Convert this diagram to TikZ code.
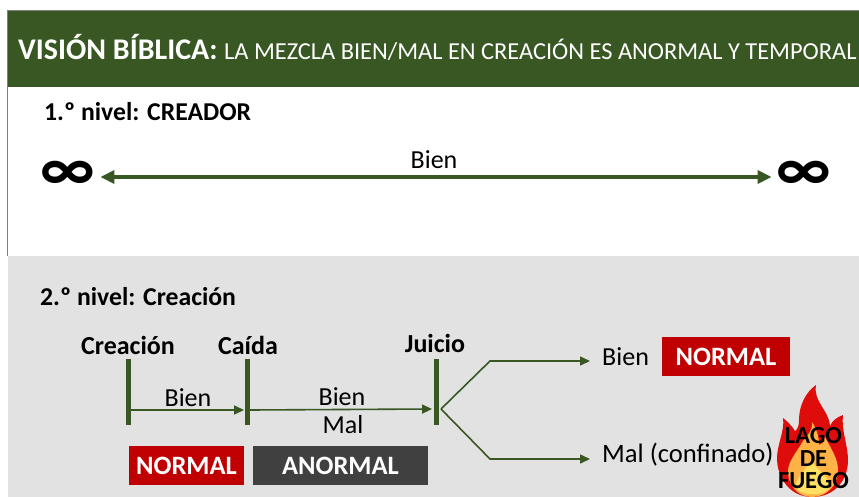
\documentclass[tikz,border=0pt]{standalone}
\usepackage{fontspec}
\setmainfont{Carlito}
\usetikzlibrary{arrows.meta}
\definecolor{DarkGreen}{HTML}{385723}
\definecolor{PaleGrey}{HTML}{E2E2E2}
\definecolor{BoxRed}{HTML}{C00000}
\definecolor{BoxGrey}{HTML}{404040}
\definecolor{FlameRed}{HTML}{DF0C0C}
\definecolor{FlameOrange}{HTML}{FFB347}
\definecolor{FlameYellow}{HTML}{FFE063}
\tikzset{
    txt/.style={inner sep=0pt,anchor=base,font=\fontsize{26}{28}\selectfont},
    txtb/.style={txt,font=\fontsize{26}{28}\selectfont\bfseries},
    flametxt/.style={txt,font=\fontsize{24.5}{26}\selectfont\bfseries},
    tag/.style={fill=#1,text=white,inner sep=0pt,minimum height=39pt,text depth=0pt,font=\fontsize{26.5}{28}\selectfont\bfseries},
    bar/.style={fill=DarkGreen,inner sep=0pt,minimum width=4.5pt,minimum height=66pt},
    widearrow/.style={draw=DarkGreen,line width=3.5pt,{Triangle[length=14pt,width=13pt]}-{Triangle[length=14pt,width=13pt]},shorten >=5pt,shorten <=5pt},
    thinarrow/.style={draw=DarkGreen,line width=1.6pt,-{Triangle[length=10pt,width=9pt]}},
}
\begin{document}
\begin{tikzpicture}[x=1pt,y=-1pt]
    \useasboundingbox (0,0) rectangle (859,497);
    \fill[PaleGrey] (8,256) rectangle (859,497);
    \draw[gray,line width=1pt] (7.5,256) -- (7.5,10.5) -- (859,10.5);
    \fill[DarkGreen] (8,11) rectangle (859,87);
    \node[txtb,anchor=base west,text=white,font=\fontsize{30}{32}\selectfont\bfseries] (titlea) at (18,60) {VISIÓN BÍBLICA:};
    \node[txt,anchor=base west,text=white,font=\fontsize{24.4}{26}\selectfont] (titleb) at (224,60) {LA MEZCLA BIEN/MAL EN CREACIÓN ES ANORMAL Y TEMPORAL};
    \node[txtb,anchor=base west,font=\fontsize{25.7}{28}\selectfont\bfseries] (levela) at (44,121) {1.º nivel: CREADOR};
    \node[txtb,anchor=base west,font=\fontsize{25.7}{28}\selectfont\bfseries] (levelb) at (40,305) {2.º nivel: Creación};

    \node[inner sep=0pt,font=\fontsize{65}{65}\selectfont\bfseries] (infl) at (68,176) {∞};
    \node[inner sep=0pt,font=\fontsize{65}{65}\selectfont\bfseries] (infr) at (804,176) {∞};
    \node[txt] (bientop) at (434,169) {Bien};
    \draw[widearrow] (infl.east |- 0,177) -- (infr.west |- 0,177);

    \node[bar] (creacion) at (128.5,392) {};
    \node[bar] (caida) at (247.5,392) {};
    \node[bar] (juicio) at (436.5,392) {};
    \node[txtb] at (128,354) {Creación};
    \node[txtb] at (248,354) {Caída};
    \node[txtb] at (435,352) {Juicio};
    \draw[thinarrow] ([yshift=-18pt]creacion.east) -- ([yshift=-18pt,xshift=-1pt]caida.west);
    \draw[thinarrow] ([yshift=-18pt]caida.east) -- ([yshift=-17pt,xshift=-2pt]juicio.west);
    \node[txt] at (188,406) {Bien};
    \node[txt] at (342,405) {Bien};
    \node[txt] at (343,433) {Mal};

    \node[tag=BoxRed,minimum width=115pt] (normala) at (186.5,465.5) {NORMAL};
    \node[tag=BoxGrey,minimum width=175pt] (anormal) at (340.5,465.5) {ANORMAL};
    \node[tag=BoxRed,minimum width=128pt] (normalb) at (726,356.5) {NORMAL};

    \node[txt,anchor=base west] (bienend) at (602,365) {Bien};
    \node[txt,anchor=base west,font=\fontsize{26.6}{28}\selectfont] (malend) at (602,462) {Mal (confinado)};
    \coordinate (fork) at (441,409);
    \coordinate (forkup) at (490,361);
    \coordinate (forkdown) at (490,459);
    \draw[thinarrow] (fork) -- (forkup) -- ([xshift=-12pt]bienend.west |- forkup);
    \draw[thinarrow] (fork) -- (forkdown) -- ([xshift=-12pt]malend.west |- forkdown);

    \fill[FlameRed] (816,385) .. controls (806,392) and (799,405) .. (799,420)
        .. controls (799,425) and (798,429) .. (795,431)
        .. controls (792,426) and (787,421) .. (783,418)
        .. controls (785,430) and (777,445) .. (777,458)
        .. controls (777,478) and (790,497) .. (812,497)
        .. controls (835,497) and (848,480) .. (848,460)
        .. controls (848,445) and (841,430) .. (843,415)
        .. controls (837,417) and (832,421) .. (830,426)
        .. controls (829,410) and (813,402) .. (816,385) -- cycle;
    \fill[FlameOrange] (812,422) .. controls (813,432) and (806,436) .. (803,441)
        .. controls (797,452) and (787,462) .. (788,473)
        .. controls (789,488) and (800,497) .. (812,497)
        .. controls (826,497) and (838,486) .. (838,470)
        .. controls (838,458) and (830,447) .. (825,437)
        .. controls (824,442) and (821,444) .. (819,445)
        .. controls (819,436) and (816,428) .. (812,422) -- cycle;
    \fill[FlameYellow] (811,460) .. controls (806,470) and (795,478) .. (796,487)
        .. controls (798,497) and (830,497) .. (830,485)
        .. controls (829,476) and (816,470) .. (811,460) -- cycle;
    \node[flametxt] at (813.5,443) {LAGO};
    \node[flametxt] at (813.5,466) {DE};
    \node[flametxt] at (813.5,488) {FUEGO};
\end{tikzpicture}
\end{document}
